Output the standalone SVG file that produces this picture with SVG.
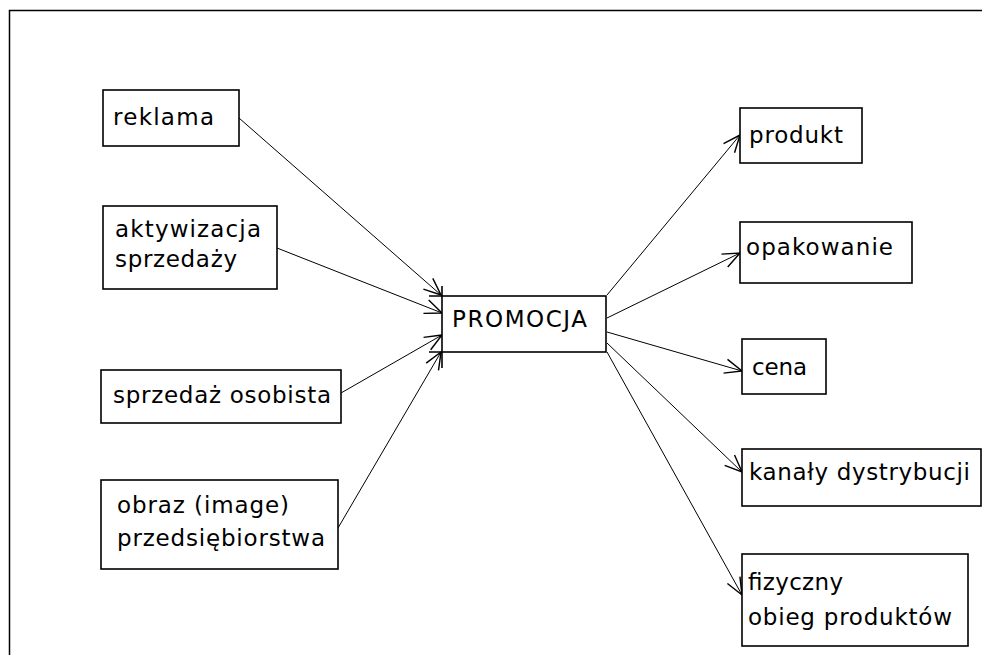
<svg xmlns="http://www.w3.org/2000/svg" width="982" height="655" viewBox="0 0 982 655">
<defs>
<marker id="arr" markerUnits="userSpaceOnUse" markerWidth="20" markerHeight="20" refX="13" refY="6" orient="auto" viewBox="0 0 14 12">
<polyline points="1,1 13,6 1,11" fill="none" stroke="#000" stroke-width="1"/>
</marker>
<style>
.box{fill:#fff;stroke:#000;stroke-width:1.6}
.t{font-family:"DejaVu Sans",Verdana,sans-serif;font-size:23px;fill:#000}
.c{fill:none;stroke:#000;stroke-width:1;marker-end:url(#arr)}
</style>
</defs>
<rect width="982" height="655" fill="#fff"/>
<path d="M9.5,660 V10.5 H990" fill="none" stroke="#000" stroke-width="1.5"/>
<g id="connectors">
<line class="c" x1="239" y1="118" x2="441" y2="295"/>
<line class="c" x1="277" y1="248" x2="442" y2="313"/>
<line class="c" x1="341" y1="393" x2="442" y2="335"/>
<line class="c" x1="338" y1="528" x2="441" y2="352"/>
<line class="c" x1="607" y1="295" x2="740" y2="135"/>
<line class="c" x1="607" y1="318" x2="740" y2="253"/>
<line class="c" x1="607" y1="332" x2="742" y2="371"/>
<line class="c" x1="607" y1="343" x2="742" y2="472"/>
<line class="c" x1="607" y1="352" x2="742" y2="595"/>
</g>
<g id="reklama"><rect class="box" x="103" y="90" width="136" height="56"/><text class="t" x="113" y="125" textLength="101" lengthAdjust="spacing">reklama</text></g>
<g id="aktywizacja"><rect class="box" x="103" y="206" width="174" height="83"/><text class="t" x="115" y="237" textLength="146" lengthAdjust="spacing">aktywizacja</text><text class="t" x="115" y="267" textLength="122" lengthAdjust="spacing">sprzedaży</text></g>
<g id="sprzedaz"><rect class="box" x="101" y="370" width="240" height="53"/><text class="t" x="113" y="403" textLength="218" lengthAdjust="spacing">sprzedaż osobista</text></g>
<g id="obraz"><rect class="box" x="101" y="480" width="237" height="89"/><text class="t" x="117" y="513" textLength="172" lengthAdjust="spacing">obraz (image)</text><text class="t" x="117" y="546" textLength="208" lengthAdjust="spacing">przedsiębiorstwa</text></g>
<g id="promocja"><rect class="box" x="442" y="296" width="164" height="56"/><path d="M429,296 H442 M429,352 H442 M442,286 V296 M442,352 V368" fill="none" stroke="#000" stroke-width="1.6"/><text class="t" x="452" y="327" textLength="135" lengthAdjust="spacing">PROMOCJA</text></g>
<g id="produkt"><rect class="box" x="740" y="108" width="122" height="55"/><text class="t" x="749" y="143" textLength="94" lengthAdjust="spacing">produkt</text></g>
<g id="opakowanie"><rect class="box" x="740" y="222" width="172" height="61"/><text class="t" x="746" y="255" textLength="147" lengthAdjust="spacing">opakowanie</text></g>
<g id="cena"><rect class="box" x="742" y="339" width="84" height="55"/><text class="t" x="752" y="375" textLength="55" lengthAdjust="spacing">cena</text></g>
<g id="kanaly"><rect class="box" x="742" y="449" width="239" height="57"/><text class="t" x="749" y="480" textLength="221" lengthAdjust="spacing">kanały dystrybucji</text></g>
<g id="fizyczny"><rect class="box" x="742" y="554" width="226" height="92"/><text class="t" x="748" y="590" textLength="95" lengthAdjust="spacing">fizyczny</text><text class="t" x="748" y="625" textLength="204" lengthAdjust="spacing">obieg produktów</text></g>
</svg>
